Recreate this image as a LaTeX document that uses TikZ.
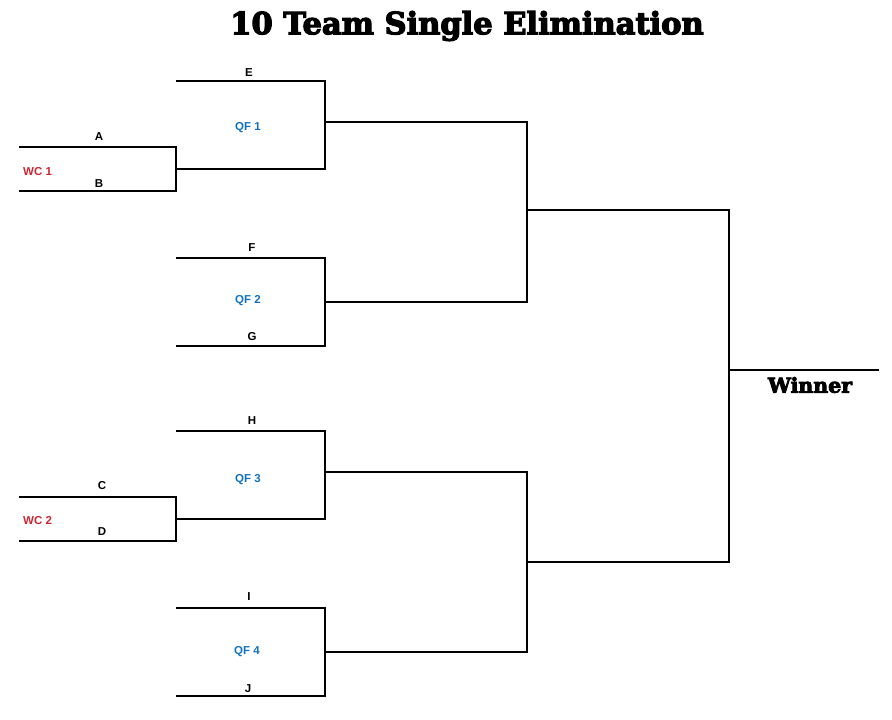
\documentclass[tikz,border=0pt]{standalone}
\usepackage{fontspec}
\setmainfont{Liberation Sans}
\newfontfamily\slabfont{DejaVu Serif}[BoldFeatures={FakeBold=4}]
\usepackage{xcolor}
\definecolor{wcred}{RGB}{205,38,48}
\definecolor{qfblue}{RGB}{16,114,196}
\tikzstyle{bracket} = [line width=1.3pt, line cap=rect]
\tikzstyle{team} = [font=\fontsize{11.5}{13}\selectfont\bfseries, inner sep=0pt, yshift=-1.5pt]
\tikzstyle{wc} = [team, text=wcred, anchor=west]
\tikzstyle{qf} = [team, text=qfblue]

\begin{document}
\begin{tikzpicture}[x=1pt, y=-1pt]
        \useasboundingbox (0,0) rectangle (892,720);
        \node[font=\slabfont\fontsize{30.5}{33}\selectfont\bfseries] at (467,26) (title) {10 Team Single Elimination};

        % wild card games
        \coordinate (wc1a) at (20,147);  \coordinate (wc1ae) at (176,147);
        \coordinate (wc1b) at (20,191);  \coordinate (wc1be) at (176,191);
        \coordinate (wc2a) at (20,497);  \coordinate (wc2ae) at (176,497);
        \coordinate (wc2b) at (20,541);  \coordinate (wc2be) at (176,541);

        % quarter finals
        \coordinate (qf1a) at (177,81);  \coordinate (qf1ae) at (325,81);
        \coordinate (qf1b) at (176,169); \coordinate (qf1be) at (325,169);
        \coordinate (qf2a) at (177,258); \coordinate (qf2ae) at (325,258);
        \coordinate (qf2b) at (177,346); \coordinate (qf2be) at (325,346);
        \coordinate (qf3a) at (177,431); \coordinate (qf3ae) at (325,431);
        \coordinate (qf3b) at (176,519); \coordinate (qf3be) at (325,519);
        \coordinate (qf4a) at (177,608); \coordinate (qf4ae) at (325,608);
        \coordinate (qf4b) at (177,696); \coordinate (qf4be) at (325,696);

        % semi finals and final
        \coordinate (sf1a) at (325,122); \coordinate (sf1ae) at (527,122);
        \coordinate (sf1b) at (325,302); \coordinate (sf1be) at (527,302);
        \coordinate (sf2a) at (325,472); \coordinate (sf2ae) at (527,472);
        \coordinate (sf2b) at (325,652); \coordinate (sf2be) at (527,652);
        \coordinate (fa) at (527,210);   \coordinate (fae) at (729,210);
        \coordinate (fb) at (527,562);   \coordinate (fbe) at (729,562);
        \coordinate (win) at (729,370);  \coordinate (wine) at (878,370);

        \draw[bracket] (wc1a) -- (wc1ae) -- (wc1be) -- (wc1b);
        \draw[bracket] (wc2a) -- (wc2ae) -- (wc2be) -- (wc2b);
        \draw[bracket] (qf1a) -- (qf1ae) -- (qf1be) -- (qf1b);
        \draw[bracket] (qf2a) -- (qf2ae) -- (qf2be) -- (qf2b);
        \draw[bracket] (qf3a) -- (qf3ae) -- (qf3be) -- (qf3b);
        \draw[bracket] (qf4a) -- (qf4ae) -- (qf4be) -- (qf4b);
        \draw[bracket] (sf1a) -- (sf1ae) -- (sf1be) -- (sf1b);
        \draw[bracket] (sf2a) -- (sf2ae) -- (sf2be) -- (sf2b);
        \draw[bracket] (fa) -- (fae) -- (fbe) -- (fb);
        \draw[bracket] (win) -- (wine);

        \node[team] at (99,135) (a) {A};
        \node[team] at (99,182) (b) {B};
        \node[wc] at (23,170) (wc1) {WC 1};
        \node[team] at (102,484) (c) {C};
        \node[team] at (102,530) (d) {D};
        \node[wc] at (23,519) (wc2) {WC 2};

        \node[team] at (249,71) (e) {E};
        \node[qf] at (248,126) (qf1) {QF 1};
        \node[team] at (252,246) (f) {F};
        \node[qf] at (248,299) (qf2) {QF 2};
        \node[team] at (252,335) (g) {G};
        \node[team] at (252,419) (h) {H};
        \node[qf] at (248,478) (qf3) {QF 3};
        \node[team] at (249,595) (i) {I};
        \node[qf] at (247,650) (qf4) {QF 4};
        \node[team] at (248,687) (j) {J};

        \node[font=\slabfont\fontsize{20.5}{22}\selectfont\bfseries] at (810,385) (winner) {Winner};

    \end{tikzpicture}
\end{document}
